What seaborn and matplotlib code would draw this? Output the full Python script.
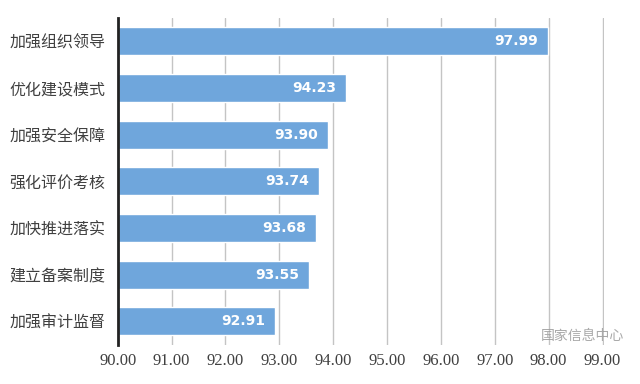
import matplotlib
import pandas as pd
import seaborn as sns

matplotlib.use("Agg")
import matplotlib.pyplot as plt
from matplotlib.ticker import FixedLocator, FormatStrFormatter

CATEGORIES = ["加强组织领导", "优化建设模式", "加强安全保障", "强化评价考核",
              "加快推进落实", "建立备案制度", "加强审计监督"]
SCORES = [97.99, 94.23, 93.90, 93.74, 93.68, 93.55, 92.91]
X_TICKS = [90, 91, 92, 93, 94, 95, 96, 97, 98, 99]
BAR_COLOR = "#6fa6dc"


def main() -> None:
    sns.set_theme(style="white")
    plt.rcParams["font.family"] = ["Noto Sans CJK SC", "DejaVu Sans"]

    df = pd.DataFrame({"category": CATEGORIES, "score": SCORES})
    x_min = X_TICKS[0]

    fig = plt.figure(figsize=(6.4, 3.84), dpi=100)
    ax = fig.add_axes([0.184, 0.102, 0.76, 0.851])

    sns.barplot(data=df, x="score", y="category", orient="h", color=BAR_COLOR,
                saturation=1, width=0.6, ax=ax)
    # bars start at the axis minimum, not at zero
    for patch, value in zip(ax.patches, SCORES):
        patch.set_x(x_min)
        patch.set_width(value - x_min)
        ax.text(value - 0.18, patch.get_y() + patch.get_height() / 2, f"{value:.2f}",
                ha="right", va="center", color="white", fontsize=10,
                fontweight="bold", family=["DejaVu Sans"])

    ax.set_xlim(x_min, X_TICKS[-1] + 0.03)
    ax.set_ylim(6.5, -0.5)
    ax.xaxis.set_major_locator(FixedLocator(X_TICKS))
    ax.xaxis.set_major_formatter(FormatStrFormatter("%.2f"))
    ax.grid(axis="x", color="#c4c4c4", linewidth=1)
    ax.set_axisbelow(True)
    ax.set_xlabel("")
    ax.set_ylabel("")

    for side in ["top", "right", "bottom"]:
        ax.spines[side].set_visible(False)
    ax.spines["left"].set_color("#222222")
    ax.spines["left"].set_linewidth(2)

    ax.tick_params(axis="both", length=0)
    ax.tick_params(axis="y", labelsize=11.5, labelcolor="#404040", pad=9)
    ax.tick_params(axis="x", pad=6)
    for label in ax.get_xticklabels():
        label.set_family(["Liberation Serif"])
        label.set_fontsize(12)
        label.set_color("#404040")

    fig.text(0.975, 0.125, "国家信息中心", ha="right", va="center", fontsize=10,
             color="#9a9a9a", alpha=0.85)

    fig.savefig("out.png", dpi=100)
    plt.close(fig)


if __name__ == "__main__":
    main()
